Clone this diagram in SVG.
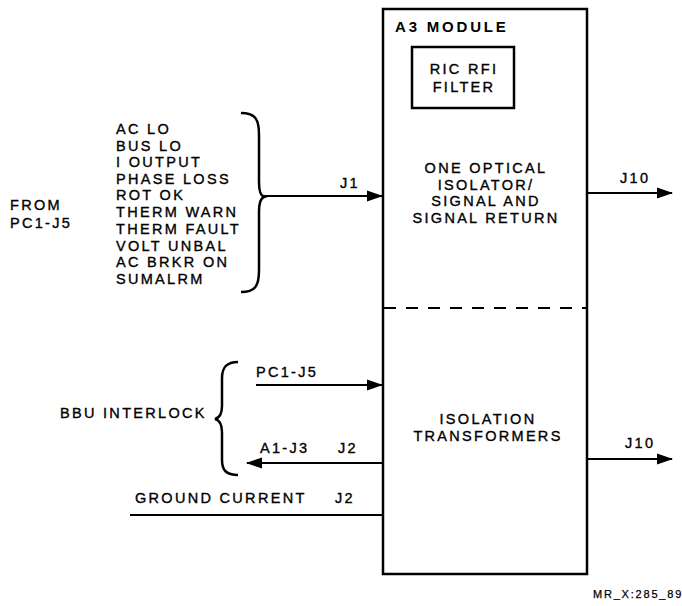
<svg xmlns="http://www.w3.org/2000/svg" width="682" height="606" viewBox="0 0 682 606">
<defs>
<marker id="ah" markerWidth="16" markerHeight="12" refX="15" refY="6" orient="auto" markerUnits="userSpaceOnUse">
<path d="M0,0.5 L16,6 L0,11.5 Z" fill="#000"/>
</marker>
<style>
text{font-family:"Liberation Sans",Arial,sans-serif;font-size:14.5px;letter-spacing:2.3px;fill:#000;stroke:#000;stroke-width:0.35}
.b{font-weight:bold;font-size:15px;letter-spacing:2.8px;stroke-width:0}
.c{text-anchor:middle}
.s{font-size:11px;letter-spacing:1.8px;stroke-width:0.25}
.ln{stroke:#000;stroke-width:2;fill:none}
.box{stroke:#000;stroke-width:2.5;fill:#fff}
.br{stroke:#000;stroke-width:2.5;fill:none}
</style>
</defs>
<rect width="682" height="606" fill="#fff"/>

<g id="a3module">
<rect class="box" x="383" y="9" width="204" height="565"/>
<line x1="384" y1="308" x2="586" y2="308" stroke="#000" stroke-width="2" stroke-dasharray="12,10"/>
<text class="b" x="395" y="32">A3 MODULE</text>
</g>

<g id="rfifilter">
<rect class="box" x="412" y="47" width="102" height="61" stroke-width="2"/>
<text class="c" x="464" y="74">RIC RFI</text>
<text class="c" x="464" y="92">FILTER</text>
</g>

<g id="optical">
<text class="c" x="486" y="173">ONE OPTICAL</text>
<text class="c" x="486" y="190">ISOLATOR/</text>
<text class="c" x="486" y="206">SIGNAL AND</text>
<text class="c" x="486" y="223">SIGNAL RETURN</text>
</g>

<g id="transformers">
<text class="c" x="488" y="424">ISOLATION</text>
<text class="c" x="488" y="441">TRANSFORMERS</text>
</g>

<g id="signals">
<text x="10" y="210">FROM</text>
<text x="10" y="228">PC1-J5</text>
<text x="116" y="134">AC LO</text>
<text x="116" y="151">BUS LO</text>
<text x="116" y="167">I OUTPUT</text>
<text x="116" y="184">PHASE LOSS</text>
<text x="116" y="200">ROT OK</text>
<text x="116" y="217">THERM WARN</text>
<text x="116" y="234">THERM FAULT</text>
<text x="116" y="251">VOLT UNBAL</text>
<text x="116" y="267">AC BRKR ON</text>
<text x="116" y="284">SUMALRM</text>
<path class="br" d="M241,113 C256,113 259,120 259,135 L259,182 C259,192 261,196 264,197 C261,198 259,202 259,212 L259,270 C259,285 256,292 241,292"/>
</g>

<g id="bbu">
<text x="60" y="418">BBU INTERLOCK</text>
<path class="br" d="M238,362 C226,362 222,368 222,378 L222,406 C222,414 219,418 215,419 C219,420 222,424 222,432 L222,460 C222,470 226,475 238,475"/>
</g>

<g id="connectors">
<line class="ln" x1="262" y1="196" x2="382" y2="196" marker-end="url(#ah)"/>
<text x="340" y="188">J1</text>
<line class="ln" x1="588" y1="193" x2="672" y2="193" marker-end="url(#ah)"/>
<text x="620" y="183">J10</text>
<line class="ln" x1="256" y1="385" x2="382" y2="385" marker-end="url(#ah)"/>
<text x="256" y="377">PC1-J5</text>
<line class="ln" x1="383" y1="463" x2="247" y2="463" marker-end="url(#ah)"/>
<text x="260" y="453">A1-J3</text>
<text x="338" y="453">J2</text>
<line class="ln" x1="130" y1="515" x2="383" y2="515"/>
<text x="135" y="503">GROUND CURRENT</text>
<text x="335" y="503">J2</text>
<line class="ln" x1="588" y1="459" x2="672" y2="459" marker-end="url(#ah)"/>
<text x="625" y="448">J10</text>
</g>

<text class="s" x="593" y="598">MR_X:285_89</text>
</svg>
